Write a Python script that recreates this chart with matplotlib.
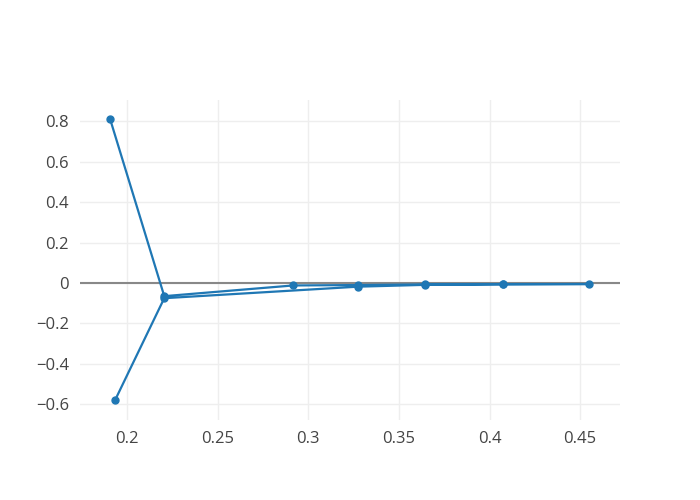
import matplotlib
matplotlib.use("Agg")
import matplotlib.pyplot as plt

# single trace, path order as drawn
xs = [0.1906, 0.2205, 0.2916, 0.3275, 0.3645, 0.4075, 0.455,
      0.4075, 0.3645, 0.3275, 0.2205, 0.1934]
ys = [0.812, -0.065, -0.012, -0.010, -0.007, -0.006, -0.005,
      -0.006, -0.009, -0.018, -0.075, -0.579]

xticks = [0.2, 0.25, 0.3, 0.35, 0.4, 0.45]
xticklabels = ["0.2", "0.25", "0.3", "0.35", "0.4", "0.45"]
yticks = [-0.6, -0.4, -0.2, 0, 0.2, 0.4, 0.6, 0.8]
yticklabels = ["\u22120.6", "\u22120.4", "\u22120.2", "0", "0.2", "0.4", "0.6", "0.8"]

plt.rcParams["font.family"] = ["Open Sans", "DejaVu Sans"]

fig = plt.figure(figsize=(7, 5), dpi=100)
ax = fig.add_axes([80 / 700, 80 / 500, 540 / 700, 320 / 500])

ax.plot(xs, ys, color="#1f77b4", linewidth=1.6, marker="o", markersize=5, zorder=3)
ax.axhline(0, color="#888888", linewidth=1.5, zorder=2)

ax.set_xlim(0.174, 0.472)
ax.set_ylim(-0.678, 0.906)
ax.set_xticks(xticks)
ax.set_xticklabels(xticklabels)
ax.set_yticks(yticks)
ax.set_yticklabels(yticklabels)
ax.grid(True, color="#eeeeee", linewidth=1, zorder=0)
ax.set_axisbelow(True)
ax.tick_params(length=0, labelsize=12, colors="#444444", pad=8)
for s in ax.spines.values():
    s.set_visible(False)

fig.savefig("out.png", dpi=100)
